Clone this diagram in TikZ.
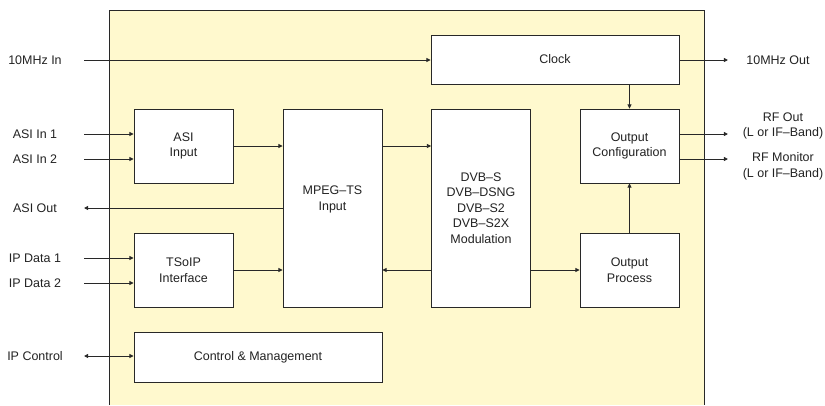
\documentclass[tikz,border=0pt]{standalone}
\usepackage{fontspec}
\setmainfont{Liberation Sans}
\usepackage{xcolor}
\usepackage{tikz}
\usetikzlibrary{arrows.meta, positioning, calc}
\definecolor{bgyellow}{RGB}{255,249,206}
\definecolor{linegray}{RGB}{40,40,40}
\definecolor{txtgray}{RGB}{34,34,34}

\begin{document}
\begin{tikzpicture}[
    block/.style={
        rectangle, draw=linegray, line width=0.5pt, fill=white,
        minimum width=1.98cm, minimum height=1.48cm,
        align=center, font=\fontsize{7.1}{8.9}\selectfont, text=txtgray,
        inner sep=0pt,
    },
    wide/.style={block, minimum width=4.96cm},
    tall/.style={block, minimum height=3.96cm},
    arrow/.style={-{Triangle[length=2.4pt,width=2.3pt]}, line width=0.5pt, draw=linegray},
    biarrow/.style={arrow, {Triangle[length=2.4pt,width=2.3pt]}-{Triangle[length=2.4pt,width=2.3pt]}},
    lbl/.style={font=\fontsize{7.1}{8.9}\selectfont, text=txtgray, align=center, inner sep=0pt},
]
\useasboundingbox (0,0) rectangle (16.5,-8.1);

% BACKGROUND
\fill[bgyellow] (2.18,-0.2) rectangle (14.08,-8.1);
\draw[linegray, line width=0.5pt] (2.18,-8.1) -- (2.18,-0.2) -- (14.08,-0.2) -- (14.08,-8.1);

% BLOCKS
\node[wide, minimum height=0.98cm] (clock) at (11.1, -1.19) {Clock};
\node[block] (asi) at (3.67, -2.92) {ASI\\Input};
\node[tall] (mpeg) at (6.65, -4.16) {};
\node[lbl] (mpeglbl) at (6.65, -3.99) {MPEG--TS\\Input};
\node[tall] (dvb) at (9.62, -4.16) {DVB--S\\DVB--DSNG\\DVB--S2\\DVB--S2X\\Modulation};
\node[block] (outconf) at (12.59, -2.92) {Output\\Configuration};
\node[block] (tsoip) at (3.67, -5.40) {TSoIP\\Interface};
\node[block] (outproc) at (12.59, -5.40) {Output\\Process};
\node[wide, minimum height=1.0cm] (ctrl) at (5.16, -7.14) {Control \& Management};

% INPUTS / OUTPUTS (left)
\node[lbl] (clkin_l) at (0.70, -1.2) {10MHz In};
\node[lbl] (asi1_l) at (0.70, -2.68) {ASI In 1};
\node[lbl] (asi2_l) at (0.70, -3.18) {ASI In 2};
\node[lbl] (asiout_l) at (0.70, -4.16) {ASI Out};
\node[lbl] (ip1_l) at (0.70, -5.16) {IP Data 1};
\node[lbl] (ip2_l) at (0.70, -5.66) {IP Data 2};
\node[lbl] (ipc_l) at (0.70, -7.12) {IP Control};

\coordinate (clkin) at (1.68, -1.2);
\coordinate (asi1) at (1.68, -2.68);
\coordinate (asi2) at (1.68, -3.18);
\coordinate (asiout) at (1.68, -4.16);
\coordinate (ip1) at (1.68, -5.16);
\coordinate (ip2) at (1.68, -5.66);
\coordinate (ipc) at (1.68, -7.12);

% OUTPUTS (right)
\node[lbl] (clkout_l) at (15.56, -1.2) {10MHz Out};
\node[lbl] (rfout_l) at (15.66, -2.52) {RF Out\\(L or IF--Band)};
\node[lbl] (rfmon_l) at (15.66, -3.32) {RF Monitor\\(L or IF--Band)};

\coordinate (clkout) at (14.56, -1.2);
\coordinate (rfout) at (14.56, -2.68);
\coordinate (rfmon) at (14.56, -3.18);

% Clock path
\draw[arrow] (clkin) -- (clkin -| clock.west);
\draw[arrow] (clkin -| clock.east) -- (clkout);
\draw[arrow] (outconf.north |- clock.south) -- (outconf.north);

% ASI path
\draw[arrow] (asi1) -- (asi1 -| asi.west);
\draw[arrow] (asi2) -- (asi2 -| asi.west);
\draw[arrow] (asi.east) -- (asi.east -| mpeg.west);
\draw[arrow] (asi.east -| mpeg.east) -- (asi.east -| dvb.west);
\draw[arrow] (mpeg.west) -- (asiout);

% TSoIP path
\draw[arrow] (ip1) -- (ip1 -| tsoip.west);
\draw[arrow] (ip2) -- (ip2 -| tsoip.west);
\draw[arrow] (tsoip.east) -- (tsoip.east -| mpeg.west);
\draw[arrow] (tsoip.east -| dvb.west) -- (tsoip.east -| mpeg.east);

% Output path
\draw[arrow] (outproc.west -| dvb.east) -- (outproc.west);
\draw[arrow] (outproc.north) -- (outconf.south);
\draw[arrow] (rfout -| outconf.east) -- (rfout);
\draw[arrow] (rfmon -| outconf.east) -- (rfmon);

% Control
\draw[biarrow] (ipc) -- (ipc -| ctrl.west);

\end{tikzpicture}
\end{document}
